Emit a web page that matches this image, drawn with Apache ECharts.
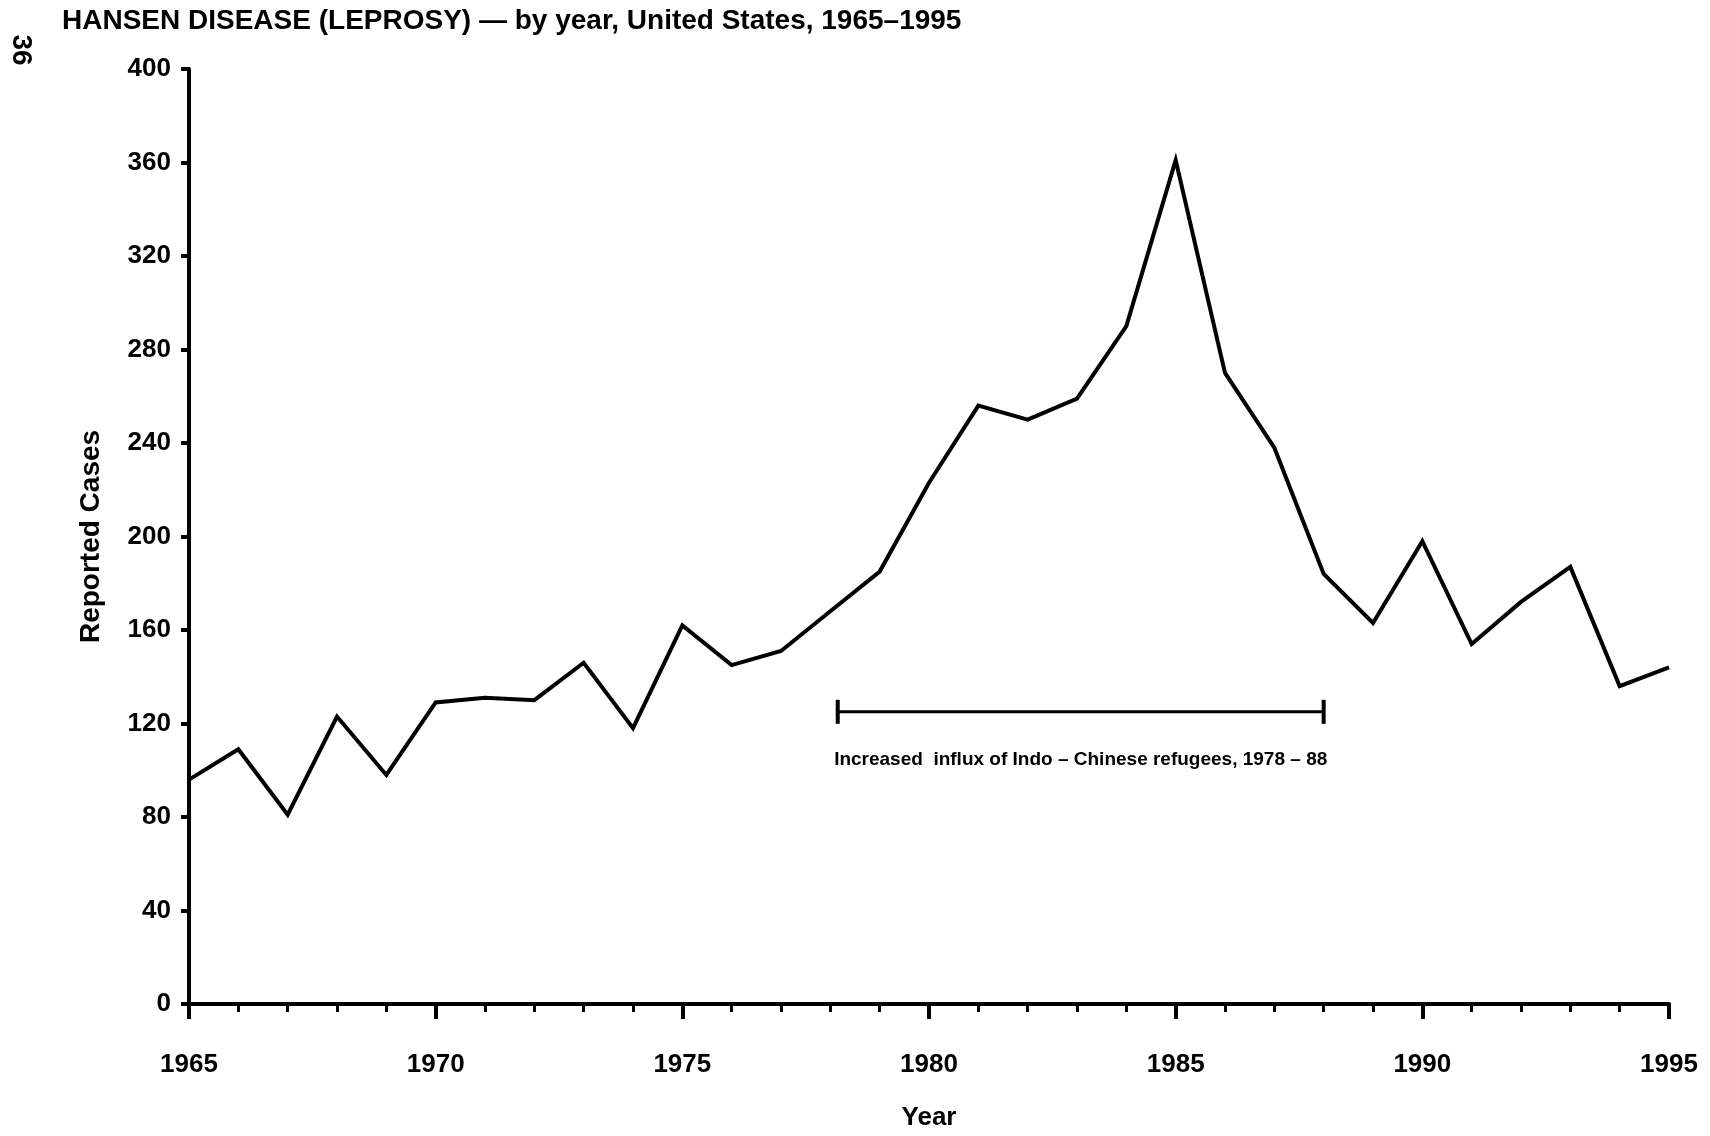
<!DOCTYPE html>
<html>
<head>
<meta charset="utf-8">
<script src="https://cdn.jsdelivr.net/npm/echarts@6/dist/echarts.min.js"></script>
<style>
  html, body { margin: 0; padding: 0; background: #fff; }
  #chart { width: 1710px; height: 1136px; }
</style>
</head>
<body>
<div id="chart"></div>
<script>
var years = [1965,1966,1967,1968,1969,1970,1971,1972,1973,1974,1975,1976,1977,1978,1979,1980,1981,1982,1983,1984,1985,1986,1987,1988,1989,1990,1991,1992,1993,1994,1995];
var cases = [96,109,81,123,98,129,131,130,146,118,162,145,151,168,185,223,256,250,259,290,361,270,238,184,163,198,154,172,187,136,144];
var titleText = 'HANSEN DISEASE (LEPROSY) \u2014 by year, United States, 1965\u20131995';
var pageNumber = '36';
var yAxisName = 'Reported Cases';
var xAxisName = 'Year';
var bracketStart = [1978.15];
var bracketEnd = [1988];
var bracketLevel = [125];
var bracketLabel = 'Increased  influx of Indo \u2013 Chinese refugees, 1978 \u2013 88';

var FONT = '"Liberation Sans", Arial, Helvetica, sans-serif';
var chart = echarts.init(document.getElementById('chart'), null, { renderer: 'canvas' });

var lineData = years.map(function (y, i) { return [y, cases[i]]; });
var bracketData = bracketStart.map(function (s, i) { return [s, bracketEnd[i], bracketLevel[i]]; });

chart.setOption({
  backgroundColor: '#ffffff',
  animation: false,
  title: {
    text: titleText,
    left: 62,
    top: 7,
    padding: 0,
    textStyle: { fontFamily: FONT, fontSize: 28, fontWeight: 'bold', color: '#000' }
  },
  graphic: [{
    type: 'text',
    x: 21, y: 50,
    rotation: -Math.PI / 2,
    style: {
      text: pageNumber,
      font: 'bold 28px ' + FONT,
      fill: '#000',
      align: 'center',
      verticalAlign: 'middle'
    }
  }],
  grid: { left: 189, right: 41, top: 69, bottom: 128, containLabel: false },
  xAxis: {
    type: 'value',
    min: 1965, max: 1995, interval: 5,
    name: xAxisName,
    nameLocation: 'middle',
    nameGap: 101,
    nameTextStyle: { fontFamily: FONT, fontSize: 26, fontWeight: 'bold', color: '#000' },
    axisLine: { show: true, onZero: false, lineStyle: { color: '#000', width: 4 } },
    axisTick: { show: true, length: 15, lineStyle: { color: '#000', width: 4 } },
    minorTick: { show: true, splitNumber: 5, length: 8, lineStyle: { color: '#000', width: 3 } },
    splitLine: { show: false },
    minorSplitLine: { show: false },
    axisLabel: {
      margin: 48,
      fontFamily: FONT, fontSize: 26, fontWeight: 'bold', color: '#000',
      formatter: function (v) { return String(v); }
    }
  },
  yAxis: {
    type: 'value',
    min: 0, max: 400, interval: 40,
    name: yAxisName,
    nameLocation: 'middle',
    nameGap: 84,
    nameTextStyle: { fontFamily: FONT, fontSize: 28, fontWeight: 'bold', color: '#000' },
    axisLine: { show: true, lineStyle: { color: '#000', width: 4 } },
    axisTick: { show: true, length: 8, lineStyle: { color: '#000', width: 4 } },
    splitLine: { show: false },
    axisLabel: {
      margin: 18,
      fontFamily: FONT, fontSize: 26, fontWeight: 'bold', color: '#000'
    }
  },
  series: [{
    type: 'line',
    data: lineData,
    symbol: 'none',
    lineStyle: { color: '#000', width: 4, join: 'miter', miterLimit: 20 },
    z: 3
  }, {
    type: 'custom',
    data: bracketData,
    encode: { x: [0, 1], y: 2 },
    renderItem: function (params, api) {
      var p1 = api.coord([api.value(0), api.value(2)]);
      var p2 = api.coord([api.value(1), api.value(2)]);
      var cap = 12;
      var ls = { stroke: '#000', lineWidth: 3 };
      var cs = { stroke: '#000', lineWidth: 4 };
      return {
        type: 'group',
        children: [
          { type: 'line', shape: { x1: p1[0], y1: p1[1], x2: p2[0], y2: p2[1] }, style: ls },
          { type: 'line', shape: { x1: p1[0], y1: p1[1] - cap, x2: p1[0], y2: p1[1] + cap }, style: cs },
          { type: 'line', shape: { x1: p2[0], y1: p2[1] - cap, x2: p2[0], y2: p2[1] + cap }, style: cs },
          { type: 'text', x: (p1[0] + p2[0]) / 2, y: p1[1] + 48,
            style: { text: bracketLabel, font: 'bold 19px ' + FONT, fill: '#000', align: 'center', verticalAlign: 'middle' } }
        ]
      };
    },
    z: 2
  }]
});
</script>
</body>
</html>
